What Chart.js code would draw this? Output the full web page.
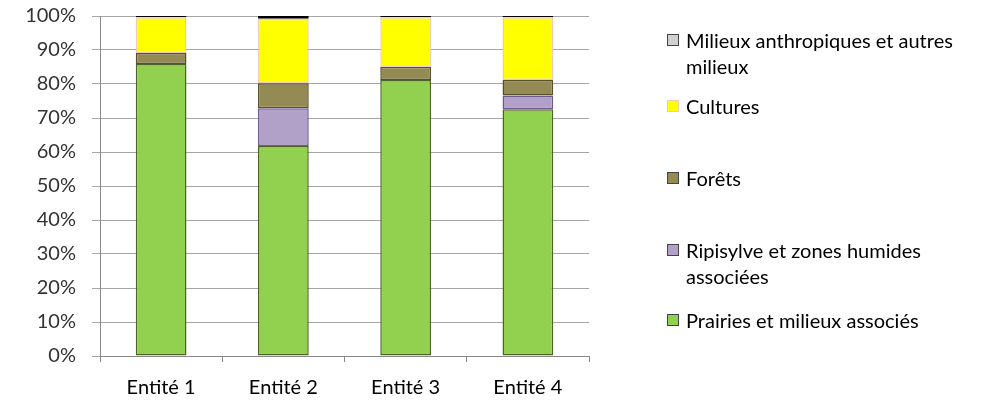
<!DOCTYPE html>
<html>
<head>
<meta charset="utf-8">
<script src="https://cdn.jsdelivr.net/npm/chart.js@4/dist/chart.umd.min.js"></script>
<style>
    body { margin: 0; background: #fff; }
    #conteneur { position: relative; width: 1000px; height: 404px; }
    #legende { position: absolute; left: 0; top: 0; }
    .item { position: absolute; left: 667px; width: 320px; font: 20px Lato, sans-serif; color: #000; line-height: 26px; }
    .item .boite { position: absolute; left: 0; top: 7px; width: 10px; height: 10px; border: 1px solid #555; }
    .item .texte { margin-left: 19px; width: 295px; }
</style>
</head>
<body>
<div id="conteneur">
    <canvas id="grafico" width="1000" height="404"></canvas>
    <div id="legende"></div>
</div>
<script>
const entites = ['Entité 1', 'Entité 2', 'Entité 3', 'Entité 4'];
const seriesNoms = ['Prairies et milieux associés', 'Ripisylve et zones humides associées', 'Forêts', 'Cultures', 'Milieux anthropiques et autres milieux'];
const prairies = [85.9, 61.8, 81.2, 72.6];
const ripisylve = [null, 11.1, null, 4.0];
const forets = [3.2, 7.3, 3.9, 4.6];
const cultures = [10.5, 19.0, 14.5, 18.4];
const anthropiques = [0.4, 0.8, 0.4, 0.4];
const ticksY = [0, 10, 20, 30, 40, 50, 60, 70, 80, 90, 100];

const couleurs = ['#92D050', '#B1A0C7', '#948A54', '#FFFF00', '#D0D0D0'];
const bordures = ['#4f6229', '#6f5a8e', '#57502c', '#f4c9b4', '#000000'];
const valeurs = [prairies, ripisylve, forets, cultures, anthropiques];
// positions verticales des items de la légende (haut de la 1re ligne)
const legendeHauts = [27, 93, 165, 237, 307];

const datasets = seriesNoms.map((nom, i) => ({
    label: nom,
    data: valeurs[i],
    backgroundColor: couleurs[i],
    borderColor: bordures[i],
    borderWidth: 1.5,
    borderSkipped: false,
    barPercentage: 0.415,
    categoryPercentage: 1
}));

new Chart(document.getElementById('grafico'), {
    type: 'bar',
    data: { labels: entites, datasets: datasets },
    options: {
        responsive: false,
        animation: false,
        layout: { padding: { top: 16, right: 411, left: 0, bottom: 0 } },
        plugins: { legend: { display: false }, tooltip: { enabled: false } },
        scales: {
            x: {
                stacked: true,
                grid: { drawOnChartArea: false, color: '#888888', tickLength: 6, offset: true },
                border: { color: '#888888' },
                ticks: { color: '#000', padding: 14, font: { family: 'Lato', size: 20 } },
                afterFit(scale) { scale.height = 48; }
            },
            y: {
                stacked: true,
                min: 0,
                max: 100,
                afterBuildTicks(scale) { scale.ticks = ticksY.map(v => ({ value: v })); },
                grid: { color: '#a6a6a6', tickLength: 8 },
                border: { color: '#888888' },
                ticks: {
                    color: '#333',
                    padding: 16,
                    font: { family: 'Lato', size: 20 },
                    callback: v => v + '%'
                },
                afterFit(scale) {
                    scale.width = 100;
                    scale.paddingTop = 0;
                    scale.paddingBottom = 0;
                }
            }
        }
    }
});

const legende = document.getElementById('legende');
for (let i = seriesNoms.length - 1; i >= 0; i--) {
    const item = document.createElement('div');
    item.className = 'item';
    item.style.top = legendeHauts[seriesNoms.length - 1 - i] + 'px';
    item.innerHTML = `<div class="boite" style="background:${couleurs[i]};border-color:${i === 3 ? '#f4c9b4' : '#444'}"></div><div class="texte">${seriesNoms[i]}</div>`;
    legende.appendChild(item);
}
</script>
</body>
</html>
